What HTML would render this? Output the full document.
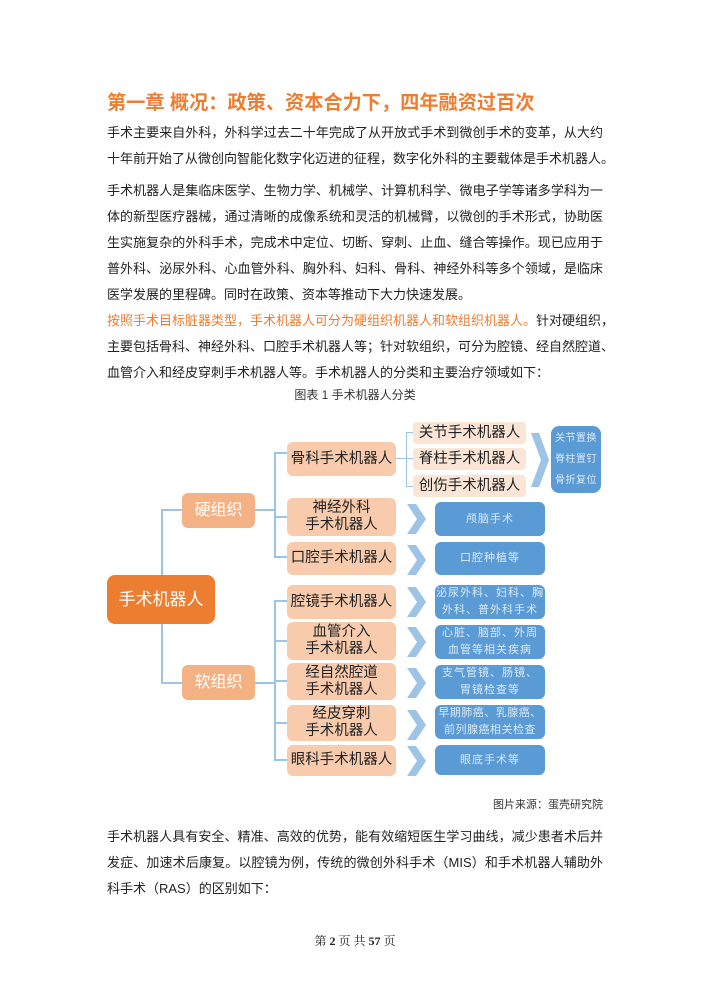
<!DOCTYPE html>
<html><head><meta charset="utf-8"><style>
body{margin:0;background:#fff;}
#p{position:relative;width:710px;height:1004px;overflow:hidden;font-family:"Liberation Sans","Noto Sans CJK SC",sans-serif;color:#222;}
.t{position:absolute;left:107px;width:496px;font-size:13px;white-space:nowrap;line-height:18px;text-align:justify;text-align-last:justify;}
.b{position:absolute;display:flex;align-items:center;justify-content:center;text-align:center;border-radius:6px;line-height:17px;}
.l2{background:#f8cbad;font-size:14.5px;color:#222;left:287px;width:109px;}
.l3{background:#fbe5d6;font-size:14.5px;color:#222;left:413px;width:113px;border-radius:4px;}
.bl{background:#5b9bd5;color:#dbe9f7;font-size:11px;left:435px;width:110px;letter-spacing:1px;line-height:17px;}
.ln{position:absolute;background:#9dc3e6;}
.ch{position:absolute;left:407px;width:20px;height:30px;}
</style></head><body><div id="p">
<div style="position:absolute;left:107px;top:87px;font-size:19.2px;font-weight:bold;color:#ed7d31;white-space:nowrap;">第一章 概况：政策、资本合力下，四年融资过百次</div>
<div class="t" style="top:124px">手术主要来自外科，外科学过去二十年完成了从开放式手术到微创手术的变革，从大约</div>
<div class="t" style="top:150px;text-align-last:left;width:505px">十年前开始了从微创向智能化数字化迈进的征程，数字化外科的主要载体是手术机器人。</div>
<div class="t" style="top:182px">手术机器人是集临床医学、生物力学、机械学、计算机科学、微电子学等诸多学科为一</div>
<div class="t" style="top:208px">体的新型医疗器械，通过清晰的成像系统和灵活的机械臂，以微创的手术形式，协助医</div>
<div class="t" style="top:234px">生实施复杂的外科手术，完成术中定位、切断、穿刺、止血、缝合等操作。现已应用于</div>
<div class="t" style="top:260px">普外科、泌尿外科、心血管外科、胸外科、妇科、骨科、神经外科等多个领域，是临床</div>
<div class="t" style="top:286px;text-align-last:left">医学发展的里程碑。同时在政策、资本等推动下大力快速发展。</div>
<div class="t" style="top:312px"><span style="color:#ed7d31">按照手术目标脏器类型，手术机器人可分为硬组织机器人和软组织机器人。</span>针对硬组织，</div>
<div class="t" style="top:338px">主要包括骨科、神经外科、口腔手术机器人等；针对软组织，可分为腔镜、经自然腔道、</div>
<div class="t" style="top:364px;text-align-last:left">血管介入和经皮穿刺手术机器人等。手术机器人的分类和主要治疗领域如下：</div>
<div style="position:absolute;left:0;width:710px;top:386px;text-align:center;font-size:12px;color:#333;">图表 1 手术机器人分类</div>

<div class="ln" style="left:161px;top:510px;width:2px;height:174px"></div>
<div class="ln" style="left:161px;top:509px;width:22px;height:2px"></div>
<div class="ln" style="left:161px;top:682px;width:22px;height:2px"></div>
<div class="ln" style="left:255px;top:509px;width:20px;height:2px"></div>
<div class="ln" style="left:255px;top:682px;width:20px;height:2px"></div>
<div class="ln" style="left:274px;top:452px;width:2px;height:106px"></div>
<div class="ln" style="left:274px;top:600px;width:2px;height:161px"></div>
<div class="ln" style="left:274px;top:452px;width:14px;height:2px"></div>
<div class="ln" style="left:274px;top:516px;width:14px;height:2px"></div>
<div class="ln" style="left:274px;top:556px;width:14px;height:2px"></div>
<div class="ln" style="left:274px;top:600px;width:14px;height:2px"></div>
<div class="ln" style="left:274px;top:640px;width:14px;height:2px"></div>
<div class="ln" style="left:274px;top:680px;width:14px;height:2px"></div>
<div class="ln" style="left:274px;top:722px;width:14px;height:2px"></div>
<div class="ln" style="left:274px;top:759px;width:14px;height:2px"></div>
<div class="ln" style="left:396px;top:458px;width:18px;height:1px"></div>
<div class="ln" style="left:406px;top:432px;width:1px;height:54px"></div>
<div class="ln" style="left:406px;top:432px;width:8px;height:1px"></div>
<div class="ln" style="left:406px;top:486px;width:8px;height:1px"></div>

<div class="b" style="left:107px;top:575px;width:108px;height:49px;background:#ed7d31;color:#fff;font-size:17px;border-radius:8px">手术机器人</div>
<div class="b" style="left:182px;top:493px;width:73px;height:35px;background:#f4b183;color:#fff;font-size:16px">硬组织</div>
<div class="b" style="left:182px;top:665px;width:73px;height:35px;background:#f4b183;color:#fff;font-size:16px">软组织</div>

<div class="b l2" style="top:442px;height:34px">骨科手术机器人</div>
<div class="b l2" style="top:498px;height:38px">神经外科<br>手术机器人</div>
<div class="b l2" style="top:542px;height:33px">口腔手术机器人</div>
<div class="b l2" style="top:585px;height:34px">腔镜手术机器人</div>
<div class="b l2" style="top:622px;height:38px">血管介入<br>手术机器人</div>
<div class="b l2" style="top:663px;height:37px">经自然腔道<br>手术机器人</div>
<div class="b l2" style="top:705px;height:36px">经皮穿刺<br>手术机器人</div>
<div class="b l2" style="top:745px;height:31px">眼科手术机器人</div>

<div class="b l3" style="top:422px;height:22px">关节手术机器人</div>
<div class="b l3" style="top:448px;height:22px">脊柱手术机器人</div>
<div class="b l3" style="top:475px;height:22px">创伤手术机器人</div>
<svg style="position:absolute;left:531px;top:433px" width="18" height="54"><polygon points="0,0 8,0 18,27 8,54 0,54 10,27" fill="#9dc3e6"/></svg>
<div class="b" style="left:551px;top:426px;width:50px;height:67px;background:#5b9bd5;color:#dbe9f7;font-size:10px;line-height:21px;border-radius:8px;letter-spacing:0.5px">关节置换<br>脊柱置钉<br>骨折复位</div>

<svg class="ch" style="top:504px" viewBox="0 0 20 30"><polygon points="0,0 9,0 19,15 9,30 0,30 10,15" fill="#9dc3e6"/></svg>
<svg class="ch" style="top:545px" viewBox="0 0 20 30"><polygon points="0,0 9,0 19,15 9,30 0,30 10,15" fill="#9dc3e6"/></svg>
<svg class="ch" style="top:587px" viewBox="0 0 20 30"><polygon points="0,0 9,0 19,15 9,30 0,30 10,15" fill="#9dc3e6"/></svg>
<svg class="ch" style="top:627px" viewBox="0 0 20 30"><polygon points="0,0 9,0 19,15 9,30 0,30 10,15" fill="#9dc3e6"/></svg>
<svg class="ch" style="top:668px" viewBox="0 0 20 30"><polygon points="0,0 9,0 19,15 9,30 0,30 10,15" fill="#9dc3e6"/></svg>
<svg class="ch" style="top:710px" viewBox="0 0 20 30"><polygon points="0,0 9,0 19,15 9,30 0,30 10,15" fill="#9dc3e6"/></svg>
<svg class="ch" style="top:746px" viewBox="0 0 20 30"><polygon points="0,0 9,0 19,15 9,30 0,30 10,15" fill="#9dc3e6"/></svg>

<div class="b bl" style="top:502px;height:34px">颅脑手术</div>
<div class="b bl" style="top:542px;height:33px">口腔种植等</div>
<div class="b bl" style="top:585px;height:34px">泌尿外科、妇科、胸<br>外科、普外科手术</div>
<div class="b bl" style="top:625px;height:34px">心脏、脑部、外周<br>血管等相关疾病</div>
<div class="b bl" style="top:665px;height:34px">支气管镜、肠镜、<br>胃镜检查等</div>
<div class="b bl" style="top:705px;height:34px;letter-spacing:0.5px">早期肺癌、乳腺癌、<br>前列腺癌相关检查</div>
<div class="b bl" style="top:745px;height:30px">眼底手术等</div>

<div style="position:absolute;right:107px;top:796px;font-size:11px;color:#333">图片来源：蛋壳研究院</div>
<div class="t" style="top:828px">手术机器人具有安全、精准、高效的优势，能有效缩短医生学习曲线，减少患者术后并</div>
<div class="t" style="top:854px">发症、加速术后康复。以腔镜为例，传统的微创外科手术（MIS）和手术机器人辅助外</div>
<div class="t" style="top:880px;text-align-last:left">科手术（RAS）的区别如下：</div>
<div style="position:absolute;left:0;width:710px;top:932px;text-align:center;font-size:12px;color:#222;font-family:'Liberation Serif','Noto Serif CJK SC',serif">第 <b>2</b> 页 共 <b>57</b> 页</div>
</div></body></html>
